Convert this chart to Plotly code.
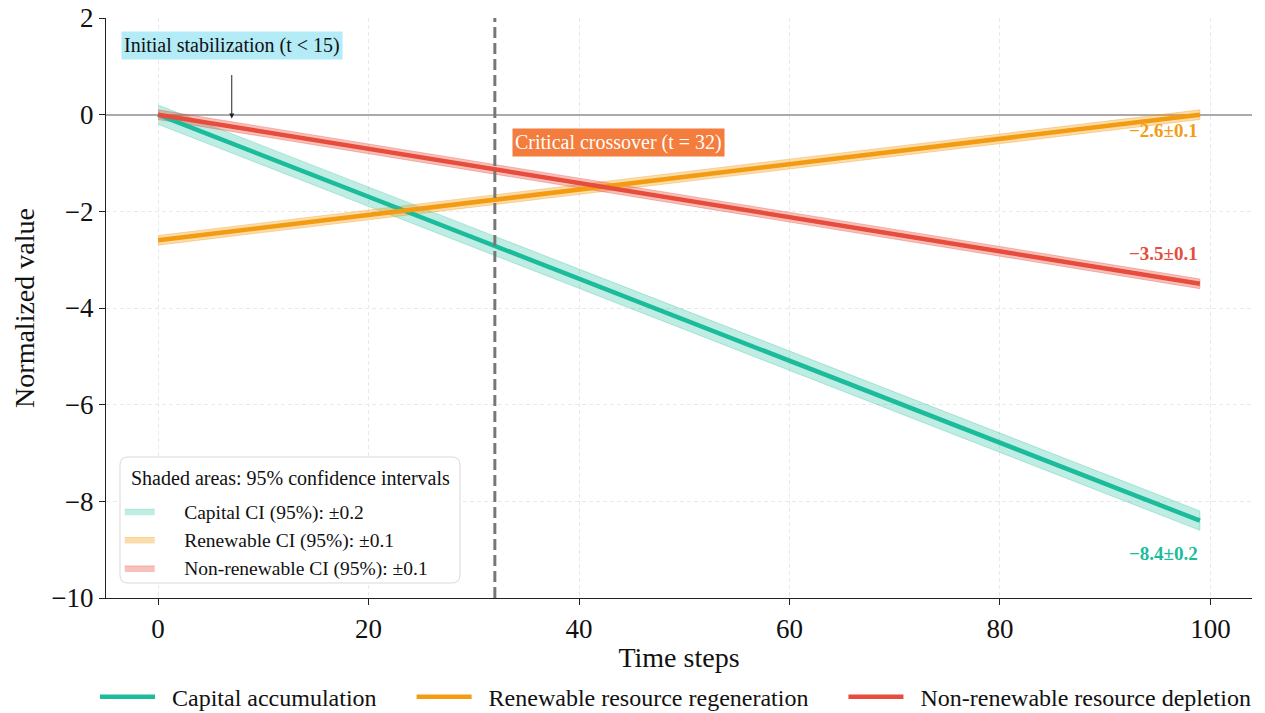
import plotly.graph_objects as go

# ---- data ----
t = [0, 20, 40, 60, 80, 99]
capital = [0.0, -1.70, -3.39, -5.09, -6.79, -8.40]
renewable = [-2.60, -2.07, -1.55, -1.02, -0.50, 0.00]
nonrenewable = [0.0, -0.71, -1.41, -2.12, -2.83, -3.50]
ci = {"capital": 0.2, "renewable": 0.1, "nonrenewable": 0.1}
final_labels = {"capital": -8.4, "renewable": -2.6, "nonrenewable": -3.5}

NB = "\u00a0"
series = [
    ("capital", "Capital accumulation", "Capital CI (95%)", capital, "#1abc9c", "rgba(26,188,156,0.28)"),
    ("renewable", "Renewable resource regeneration", "Renewable CI (95%)", renewable, "#f39c12", "rgba(243,156,18,0.35)"),
    ("nonrenewable", "Non-renewable resource depletion", "Non-renewable CI (95%)", nonrenewable, "#e74c3c", "rgba(231,76,60,0.35)"),
]

FONT = "Liberation Serif"
fig = go.Figure()

# bands
for key, name, ciname, vals, col, fcol in series:
    c = ci[key]
    xs = t + t[::-1]
    ys = [v + c for v in vals] + [v - c for v in vals][::-1]
    fig.add_trace(go.Scatter(
        x=xs, y=ys, fill="toself", fillcolor=fcol, mode="lines",
        line=dict(color=fcol, width=1), name=f"{NB*5}{ciname}: ±{c}",
        legend="legend2", hoverinfo="skip"))

# lines
for i, (key, name, ciname, vals, col, fcol) in enumerate(series):
    label = NB * 2 + name + (NB * 5 if i < len(series) - 1 else "")
    fig.add_trace(go.Scatter(x=t, y=vals, mode="lines", name=label,
                             line=dict(color=col, width=4.5), legend="legend"))

# end labels
yshifts = {"capital": -33, "renewable": -16, "nonrenewable": 30}
for key, name, ciname, vals, col, fcol in series:
    v = final_labels[key]
    txt = f"{'−' if v < 0 else ''}{abs(v):.1f}±{ci[key]}"
    fig.add_annotation(x=t[-1], y=vals[-1], text=f"<b>{txt}</b>", showarrow=False,
                       xanchor="right", yanchor="middle", yshift=yshifts[key],
                       font=dict(family=FONT, size=19, color=col))

# vertical marker
fig.add_shape(type="line", xref="x", x0=32, x1=32, yref="paper", y0=0, y1=1,
              line=dict(color="#777777", width=3, dash="11px,5px"))

# CI legend box (rounded) + title
x0, x1, y0, y1 = 0.0122, 0.3089, 0.0259, 0.2431
rx, ry = 0.007, 0.0138
path = (f"M {x0+rx},{y0} L {x1-rx},{y0} Q {x1},{y0} {x1},{y0+ry} "
        f"L {x1},{y1-ry} Q {x1},{y1} {x1-rx},{y1} L {x0+rx},{y1} "
        f"Q {x0},{y1} {x0},{y1-ry} L {x0},{y0+ry} Q {x0},{y0} {x0+rx},{y0} Z")
fig.add_shape(type="path", path=path, xref="paper", yref="paper",
              fillcolor="rgba(255,255,255,0.88)", line=dict(color="#d9d9d9", width=1),
              layer="above")
fig.add_annotation(x=0.1606, y=0.2069, xref="paper", yref="paper",
                   text="Shaded areas: 95% confidence intervals", showarrow=False,
                   xanchor="center", yanchor="middle",
                   font=dict(family=FONT, size=20, color="#111"))

# annotations
fig.add_annotation(x=7, y=-0.08, ax=7, ay=1.44, axref="x", ayref="y",
                   text="Initial stabilization (t < 15)", showarrow=True,
                   arrowhead=2, arrowsize=1, arrowwidth=1, arrowcolor="#222",
                   standoff=0, startstandoff=16,
                   font=dict(family=FONT, size=20, color="#111"),
                   bgcolor="#b3ebf7", borderpad=2)
fig.add_annotation(x=33.6, y=-0.57, text="Critical crossover (t = 32)", showarrow=False,
                   xanchor="left", font=dict(family=FONT, size=20, color="white"),
                   bgcolor="#f47c3c", borderpad=2)

fig.update_layout(
    width=1265, height=713,
    margin=dict(l=106, r=13, t=18, b=115, autoexpand=False),
    plot_bgcolor="white", paper_bgcolor="white",
    font=dict(family=FONT, size=24, color="#111"),
    xaxis=dict(range=[-4.95, 103.95], tickvals=[0, 20, 40, 60, 80, 100],
               showgrid=True, gridcolor="#e9e9e9", griddash="4px,3px", gridwidth=1,
               zeroline=False, showline=True, linecolor="#222", linewidth=1.3,
               ticks="outside", ticklen=6, tickcolor="#222", ticklabeloverflow="allow",
               title=dict(text="Time steps", font=dict(size=28), standoff=4),
               tickfont=dict(size=27)),
    yaxis=dict(range=[-10, 2], tickvals=[-10, -8, -6, -4, -2, 0, 2],
               showgrid=True, gridcolor="#e9e9e9", griddash="4px,3px", gridwidth=1,
               zeroline=True, zerolinecolor="#aaaaaa", zerolinewidth=1.5,
               showline=True, linecolor="#222", linewidth=1.3,
               ticks="outside", ticklen=6, tickcolor="#222", ticklabeloverflow="allow",
               title=dict(text="Normalized value", font=dict(size=28), standoff=8),
               tickfont=dict(size=27)),
    legend=dict(orientation="h", x=-0.0096, xanchor="left", y=-0.171, yanchor="middle",
                font=dict(size=24), itemwidth=55, bgcolor="rgba(0,0,0,0)"),
    legend2=dict(x=0.012, xanchor="left", y=0.1, yanchor="middle",
                 font=dict(size=19.5), bgcolor="rgba(0,0,0,0)",
                 borderwidth=0, itemwidth=30, tracegroupgap=0),
    showlegend=True,
)

# remove the page's default body margin so the figure fills the window exactly
fig.write_html("out.html", config={"displayModeBar": False},
               post_script="document.body.style.margin='0';")
